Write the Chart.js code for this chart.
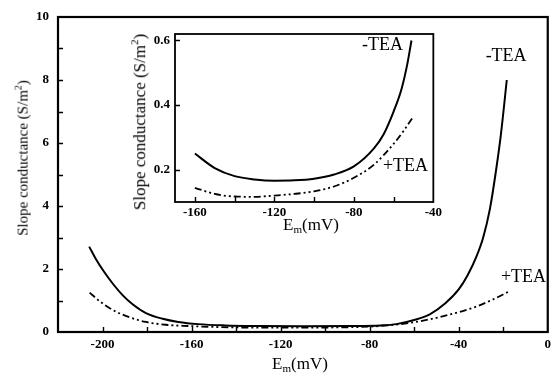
<!DOCTYPE html>
<html>
<head>
<meta charset="utf-8">
<script src="https://cdn.jsdelivr.net/npm/chart.js@4/dist/chart.umd.min.js"></script>
<style>
  html, body { margin: 0; padding: 0; background: #fff; }
  #wrap { position: relative; width: 556px; height: 376px; background: #fff; overflow: hidden; }
  #mainChart { position: absolute; left: 0; top: 0; }
  #insetBox { position: absolute; left: 100px; top: 20px; width: 345px; height: 225px; }
  .ttl { position: absolute; font-family: "Liberation Serif", "DejaVu Serif", serif; color: #000; white-space: nowrap; }
  .rot { transform: translate(-50%, -50%) rotate(-90deg); }
  .hor { transform: translate(-50%, -50%); }
  .ttl sub { font-size: 65%; vertical-align: -0.35em; }
  .ttl sup { font-size: 65%; vertical-align: 0.6em; }
</style>
</head>
<body>
<div id="wrap">
  <canvas id="mainChart" width="556" height="376"></canvas>
  <div id="insetBox"><canvas id="insetChart" width="345" height="225"></canvas></div>
  <div class="ttl rot" style="left:22px; top:158px; font-size:15px;">Slope conductance (S/m<sup>2</sup>)</div>
  <div class="ttl hor" style="left:300px; top:364px; font-size:17px;">E<sub>m</sub>(mV)</div>
  <div class="ttl rot" style="left:139px; top:122px; font-size:17px;">Slope conductance (S/m<sup>2</sup>)</div>
  <div class="ttl hor" style="left:311px; top:225px; font-size:17px;">E<sub>m</sub>(mV)</div>
</div>

<script>
// main panel: slope conductance vs membrane potential
const mainMinusX = [-206, -203, -199, -195, -191, -186.5, -180.5, -173, -166, -157, -145, -130, -110, -90, -75, -68, -60, -53, -46, -40, -36, -32, -29, -26, -23.5, -21, -18.4];
const mainMinusY = [2.71, 2.32, 1.88, 1.5, 1.17, 0.88, 0.6, 0.42, 0.32, 0.25, 0.21, 0.19, 0.18, 0.19, 0.21, 0.25, 0.38, 0.56, 0.91, 1.35, 1.8, 2.4, 3.0, 3.9, 5.0, 6.3, 8.0];
const mainPlusX = [-205.8, -201.3, -195.4, -188, -180.6, -171.7, -161.3, -150, -130, -110, -90, -80, -70, -60, -50, -40, -32.4, -25, -17.6];
const mainPlusY = [1.25, 0.98, 0.7, 0.47, 0.32, 0.23, 0.19, 0.16, 0.14, 0.14, 0.15, 0.17, 0.22, 0.31, 0.45, 0.63, 0.8, 1.02, 1.28];

// inset: zoom on the flat part
const insetMinusX = [-160, -150, -140, -130, -120, -110, -100, -90, -80, -70, -65, -60, -56, -53, -51];
const insetMinusY = [0.25, 0.205, 0.18, 0.17, 0.166, 0.167, 0.172, 0.185, 0.21, 0.265, 0.31, 0.38, 0.45, 0.53, 0.6];
const insetPlusX = [-160, -150, -140, -130, -120, -110, -100, -90, -80, -70, -60, -55, -50];
const insetPlusY = [0.144, 0.125, 0.117, 0.116, 0.12, 0.125, 0.133, 0.148, 0.175, 0.215, 0.28, 0.32, 0.365];

// axis ticks
const mainXTicks = [-200, -160, -120, -80, -40, 0];
const mainYTicks = [0, 2, 4, 6, 8, 10];
const mainXMarks = [-200, -180, -160, -140, -120, -100, -80, -60, -40, -20];
const mainYMarks = [1, 2, 3, 4, 5, 6, 7, 8, 9];
const insetXTicks = [-160, -120, -80, -40];
const insetYTicks = [0.2, 0.4, 0.6];
const insetXMarks = [-160, -140, -120, -100, -80, -60];
const insetYMarks = [0.2, 0.4, 0.6];

// curve labels: [text, x, y]
const mainLabels = [["-TEA", -18.7, 8.75], ["+TEA", -10.9, 1.73]];
const insetLabels = [["-TEA", -65.6, 0.585], ["+TEA", -54, 0.212]];

const SERIF = '"Liberation Serif", "DejaVu Serif", serif';

function pts(xs, ys) {
    return xs.map((x, i) => ({ x: x, y: ys[i] }));
}

// frame + short inward ticks + curve labels
const frameTicks = {
    id: "frameTicks",
    afterDraw(chart, args, opts) {
        const ctx = chart.ctx;
        const a = chart.chartArea;
        const sx = chart.scales.x;
        const sy = chart.scales.y;
        ctx.save();
        ctx.strokeStyle = "#000";
        ctx.lineWidth = opts.frame;
        ctx.strokeRect(a.left, a.top, a.right - a.left, a.bottom - a.top);

        ctx.lineWidth = 1.4;
        ctx.beginPath();
        opts.xMarks.forEach(v => {
            const px = Math.round(sx.getPixelForValue(v)) + 0.5;
            ctx.moveTo(px, a.bottom);
            ctx.lineTo(px, a.bottom - opts.len);
        });
        opts.yMarks.forEach(v => {
            const py = Math.round(sy.getPixelForValue(v)) + 0.5;
            ctx.moveTo(a.left, py);
            ctx.lineTo(a.left + opts.len, py);
        });
        ctx.stroke();

        ctx.fillStyle = "#000";
        ctx.font = opts.labelFont;
        ctx.textAlign = "center";
        ctx.textBaseline = "middle";
        opts.labels.forEach(l => {
            ctx.fillText(l[0], sx.getPixelForValue(l[1]), sy.getPixelForValue(l[2]));
        });
        ctx.restore();
    }
};

function makeChart(canvasId, cfg) {
    const tickFont = { family: SERIF, size: 13, weight: "bold" };
    return new Chart(document.getElementById(canvasId), {
        type: "scatter",
        data: {
            datasets: [
                {
                    data: cfg.minus,
                    showLine: true,
                    borderColor: "#000",
                    borderWidth: 2,
                    pointRadius: 0,
                    cubicInterpolationMode: "monotone"
                },
                {
                    data: cfg.plus,
                    showLine: true,
                    borderColor: "#000",
                    borderWidth: 1.8,
                    borderDash: [7, 3, 2, 3, 2, 3],
                    pointRadius: 0,
                    cubicInterpolationMode: "monotone"
                }
            ]
        },
        options: {
            responsive: false,
            animation: false,
            layout: { autoPadding: false, padding: cfg.padding },
            plugins: {
                legend: { display: false },
                tooltip: { enabled: false },
                frameTicks: {
                    frame: cfg.frame,
                    len: 5,
                    xMarks: cfg.xMarks,
                    yMarks: cfg.yMarks,
                    labels: cfg.labels,
                    labelFont: "18px " + SERIF
                }
            },
            scales: {
                x: {
                    type: "linear",
                    min: cfg.xMin,
                    max: cfg.xMax,
                    grid: { display: false, drawTicks: false },
                    border: { display: false },
                    afterBuildTicks: s => { s.ticks = cfg.xTicks.map(v => ({ value: v })); },
                    afterFit: s => { s.height = cfg.xHeight; },
                    ticks: {
                        color: "#000",
                        font: tickFont,
                        padding: cfg.xPad,
                        maxRotation: 0,
                        autoSkip: false,
                        callback: v => String(v)
                    }
                },
                y: {
                    type: "linear",
                    min: cfg.yMin,
                    max: cfg.yMax,
                    grid: { display: false, drawTicks: false },
                    border: { display: false },
                    afterBuildTicks: s => { s.ticks = cfg.yTicks.map(v => ({ value: v })); },
                    afterFit: s => { s.width = cfg.yWidth; },
                    ticks: {
                        color: "#000",
                        font: tickFont,
                        padding: cfg.yPad,
                        autoSkip: false,
                        callback: cfg.yFmt
                    }
                }
            }
        },
        plugins: [frameTicks]
    });
}

makeChart("mainChart", {
    minus: pts(mainMinusX, mainMinusY),
    plus: pts(mainPlusX, mainPlusY),
    xMin: -220, xMax: 0, yMin: 0, yMax: 10,
    xTicks: mainXTicks, yTicks: mainYTicks,
    xMarks: mainXMarks, yMarks: mainYMarks,
    labels: mainLabels,
    padding: { left: 0, top: 17, right: 3, bottom: 0 },
    xHeight: 44, yWidth: 58,
    xPad: 5, yPad: 9,
    frame: 2.2,
    yFmt: v => String(v)
});

makeChart("insetChart", {
    minus: pts(insetMinusX, insetMinusY),
    plus: pts(insetPlusX, insetPlusY),
    xMin: -170, xMax: -40, yMin: 0.1, yMax: 0.62,
    xTicks: insetXTicks, yTicks: insetYTicks,
    xMarks: insetXMarks, yMarks: insetYMarks,
    labels: insetLabels,
    padding: { left: 0, top: 14, right: 11, bottom: 0 },
    xHeight: 43, yWidth: 75,
    xPad: 3, yPad: 5,
    frame: 1.8,
    yFmt: v => v.toFixed(1)
});
</script>
</body>
</html>
